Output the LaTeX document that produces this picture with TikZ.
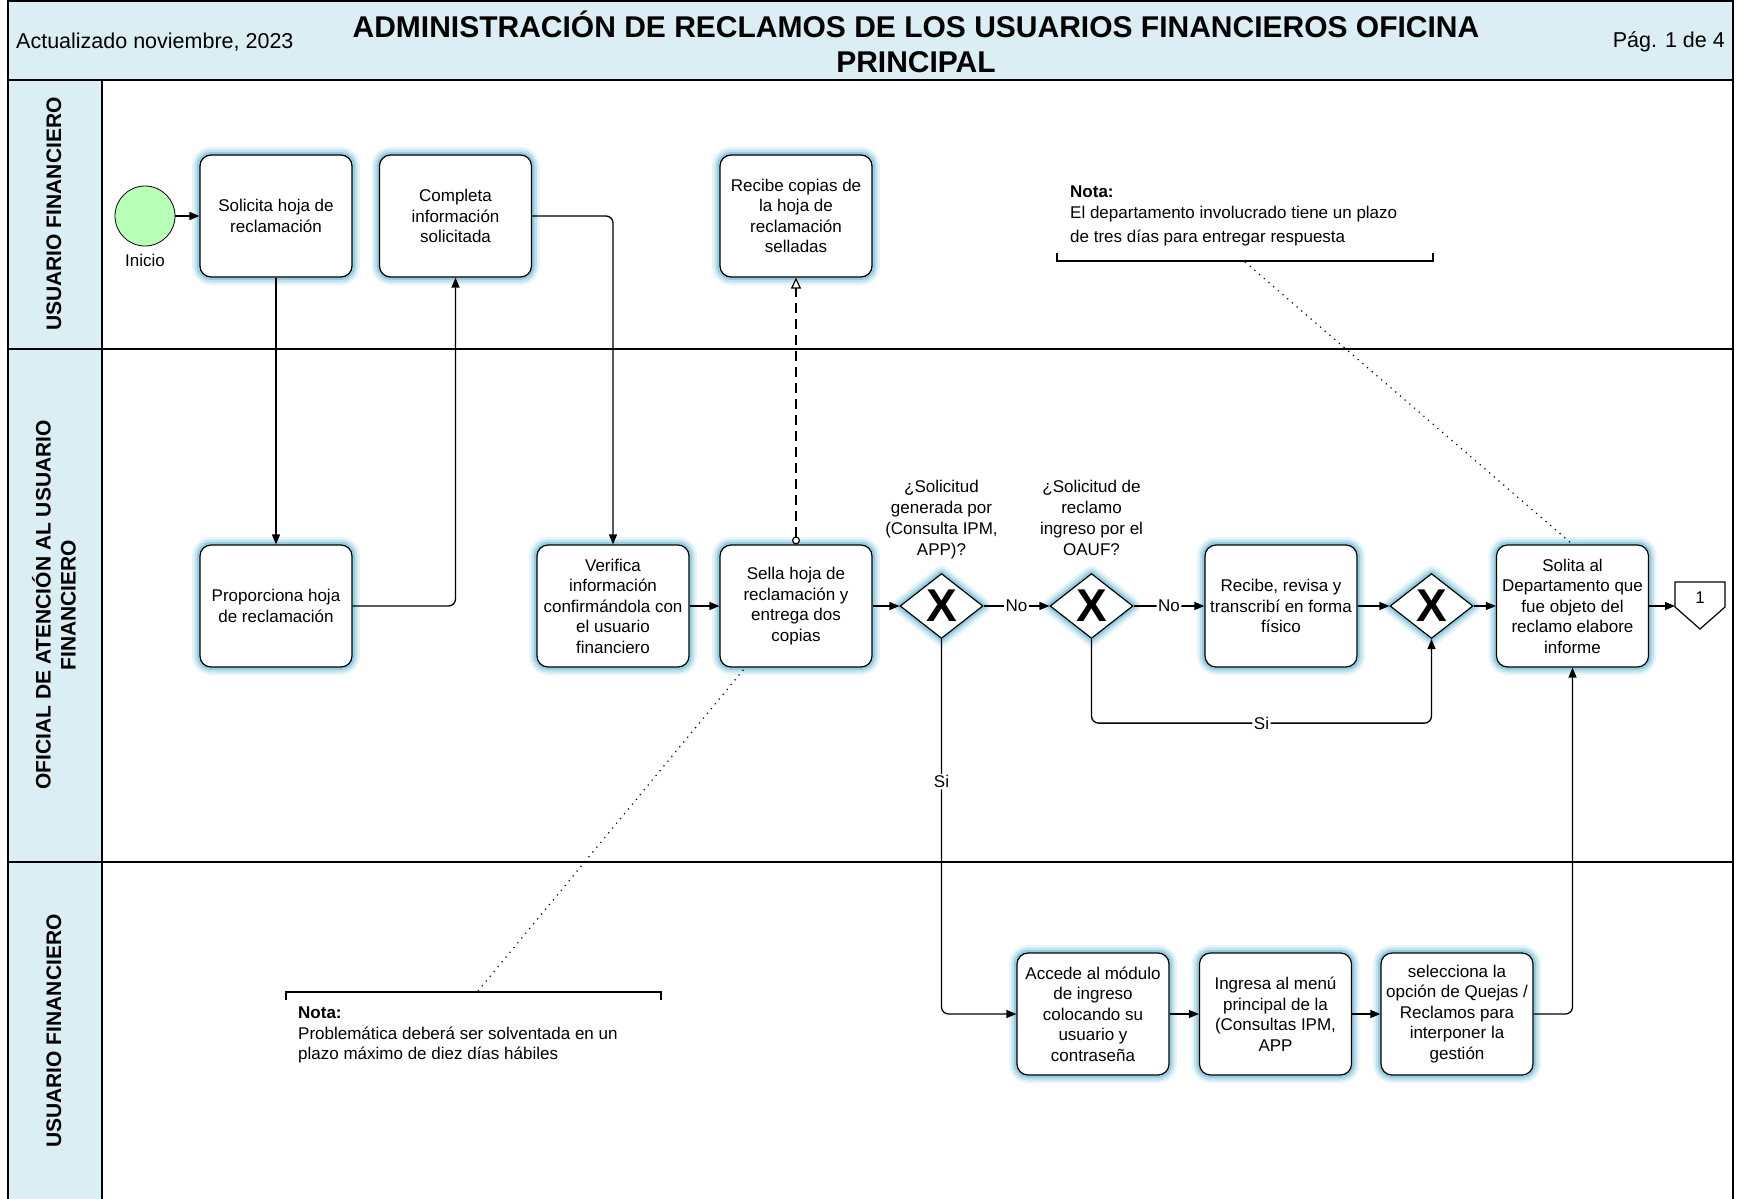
\documentclass[tikz,border=0pt]{standalone}
\usepackage{fontspec}
\setmainfont{Liberation Sans}
\usetikzlibrary{arrows.meta,shapes.geometric,calc}

\definecolor{hdrfill}{RGB}{219,238,243}
\definecolor{glowc}{RGB}{128,196,218}
\definecolor{startfill}{RGB}{183,255,183}

\newcommand\bxfont{\fontsize{17}{20.5}\selectfont}
\newcommand\lanefont{\fontsize{21}{25}\selectfont\bfseries}
\newcommand\titlefont{\fontsize{30}{35}\selectfont\bfseries}
\newcommand\hdrfont{\fontsize{21.5}{25}\selectfont}
\newcommand\xfont{\fontsize{46}{46}\selectfont\bfseries}

\tikzset{
  glow/.style={
    preaction={draw=glowc, line width=16pt, opacity=0.2, line join=round},
    preaction={draw=glowc, line width=11pt, opacity=0.35, line join=round},
    preaction={draw=glowc, line width=6pt, opacity=0.7, line join=round}},
  task/.style={glow, draw=black, line width=1.2pt, fill=white, rounded corners=11pt,
    minimum width=152pt, minimum height=122pt, inner sep=0pt, align=center, font=\bxfont},
  gw/.style={glow, diamond, draw=black, line width=1.2pt, fill=white,
    minimum width=83pt, minimum height=65pt, inner sep=0pt,
    label={[font=\xfont]center:X}},
  startev/.style={circle, draw=black, line width=0.8pt, fill=startfill, minimum size=60pt, inner sep=0pt},
  txt/.style={font=\bxfont, inner sep=0pt, align=center},
  qtxt/.style={font=\fontsize{17}{21}\selectfont, inner sep=0pt, align=center, anchor=north},
  lbl/.style={font=\bxfont, fill=white, inner sep=1.5pt},
  flow/.style={line width=1.3pt, rounded corners=7pt, -{Triangle[length=10pt,width=8pt]}},
  msg/.style={line width=1.2pt, dash pattern=on 10pt off 6pt,
    {Circle[open,length=8pt,width=8pt,line width=1.2pt,fill=white]}-{Triangle[open,length=11pt,width=10pt,line width=1.2pt,fill=white]}},
  assoc/.style={line width=1.2pt, dash pattern=on 1.2pt off 5pt},
  frame/.style={line width=2pt},
  sep/.style={line width=1.6pt},
  lanelbl/.style={rotate=90, font=\lanefont, align=center, inner sep=0pt}
}

\begin{document}
\begin{tikzpicture}[x=1pt,y=-1pt]
\useasboundingbox (0,0) rectangle (1737,1199);

% header band and lane title column
\fill[hdrfill] (8,1) rectangle (1733,80);
\fill[hdrfill] (8,80) rectangle (102,1199);
\draw[frame] (8,1) rectangle (1733,80);
\draw[frame] (8,80) -- (8,1199);
\draw[frame] (1733,80) -- (1733,1199);
\draw[sep] (102,80) -- (102,1199);
\draw[sep] (8,349) -- (1733,349);
\draw[sep] (8,862) -- (1733,862);

% header texts
\node[anchor=west, font=\hdrfont, inner sep=0pt] (upd) at (16,42) {Actualizado noviembre, 2023};
\node[font=\titlefont, align=center, inner sep=0pt] (title) at (916,42)
  {ADMINISTRACIÓN DE RECLAMOS DE LOS USUARIOS FINANCIEROS OFICINA\\PRINCIPAL};
\node[anchor=east, font=\hdrfont, inner sep=0pt] (page) at (1725,42) {Pág. 1 de 4};

% lane titles
\node[lanelbl] (lane1) at (54,214) {USUARIO FINANCIERO};
\node[lanelbl] (lane2) at (54,605) {OFICIAL DE ATENCIÓN AL USUARIO\\FINANCIERO};
\node[lanelbl] (lane3) at (54,1031) {USUARIO FINANCIERO};

% start event
\node[startev] (ini) at (145,216) {};
\node[txt] (iniT) at (145,260) {Inicio};

% tasks
\node[task] (sol) at (276,216) {Solicita hoja de\\reclamación};
\node[task] (comp) at (455.5,216) {Completa\\información\\solicitada};
\node[task] (recc) at (796,216) {Recibe copias de\\la hoja de\\reclamación\\selladas};
\node[task] (prop) at (276,606) {Proporciona hoja\\de reclamación};
\node[task] (ver) at (613,606) {Verifica\\información\\confirmándola con\\el usuario\\financiero};
\node[task] (sella) at (796,606) {Sella hoja de\\reclamación y\\entrega dos\\copias};
\node[gw] (g1) at (941.5,606) {};
\node[gw] (g2) at (1091.5,606) {};
\node[task] (rev) at (1281,606) {Recibe, revisa y\\transcribí en forma\\físico};
\node[gw] (g3) at (1431.5,606) {};
\node[task] (solita) at (1572.5,606) {Solita al\\Departamento que\\fue objeto del\\reclamo elabore\\informe};
\node[task] (acc) at (1093,1014) {Accede al módulo\\de ingreso\\colocando su\\usuario y\\contraseña};
\node[task] (ing) at (1275.5,1014) {Ingresa al menú\\principal de la\\(Consultas IPM,\\APP};
\node[task] (selq) at (1457,1014) {selecciona la\\opción de Quejas /\\Reclamos para\\interponer la\\gestión};

% gateway questions
\node[qtxt] (q1) at (941.5,480) {¿Solicitud\\generada por\\(Consulta IPM,\\APP)?};
\node[qtxt] (q2) at (1091.5,480) {¿Solicitud de\\reclamo\\ingreso por el\\OAUF?};

% off-page connector
\draw[line width=1.2pt, fill=white] (1675,582) -- (1725,582) -- (1725,607) -- (1700,629) -- (1675,607) -- cycle;
\node[txt] (off1) at (1700,598) {1};
\coordinate (offin) at (1675,606);

% sequence flows
\draw[flow] (ini) -- (sol);
\draw[flow] (sol) -- (prop);
\draw[flow] (prop.east) -| (comp.south);
\draw[flow] (comp.east) -| (ver.north);
\draw[flow] (ver) -- (sella);
\draw[flow] (sella) -- (g1);
\draw[flow] (g1) -- node[lbl]{No} (g2);
\draw[flow] (g2) -- node[lbl]{No} (rev);
\draw[flow] (rev) -- (g3);
\draw[flow] (g3) -- (solita);
\draw[flow] (solita) -- (offin);
\draw[flow] (g2.south) -- ++(0,84) -| node[lbl, pos=0.25]{Si} (g3.south);
\draw[flow] (g1.south) |- node[lbl, pos=0.19]{Si} (acc.west);
\draw[flow] (acc) -- (ing);
\draw[flow] (ing) -- (selq);
\draw[flow] (selq.east) -| (solita.south);

% message flow
\draw[msg] (sella.north) -- (recc.south);

% annotations
\node[txt, anchor=west, align=left] (nota1) at (1070,216)
  {\textbf{Nota:}\\El departamento involucrado tiene un plazo\\[3.5pt]de tres días para entregar respuesta};
\draw[line width=1.2pt] (1057,253) -- (1057,261) -- (1433,261) -- (1433,253);
\coordinate (n1b) at (1245,262);
\draw[assoc] (n1b) -- (solita.north);

\node[txt, anchor=west, align=left] (nota2) at (298,1035)
  {\textbf{Nota:}\\Problemática deberá ser solventada en un\\plazo máximo de diez días hábiles};
\draw[line width=1.2pt] (286,1000) -- (286,992) -- (661,992) -- (661,1000);
\coordinate (n2b) at (478,991);
\draw[assoc] (n2b) -- (sella);
\end{tikzpicture}
\end{document}
